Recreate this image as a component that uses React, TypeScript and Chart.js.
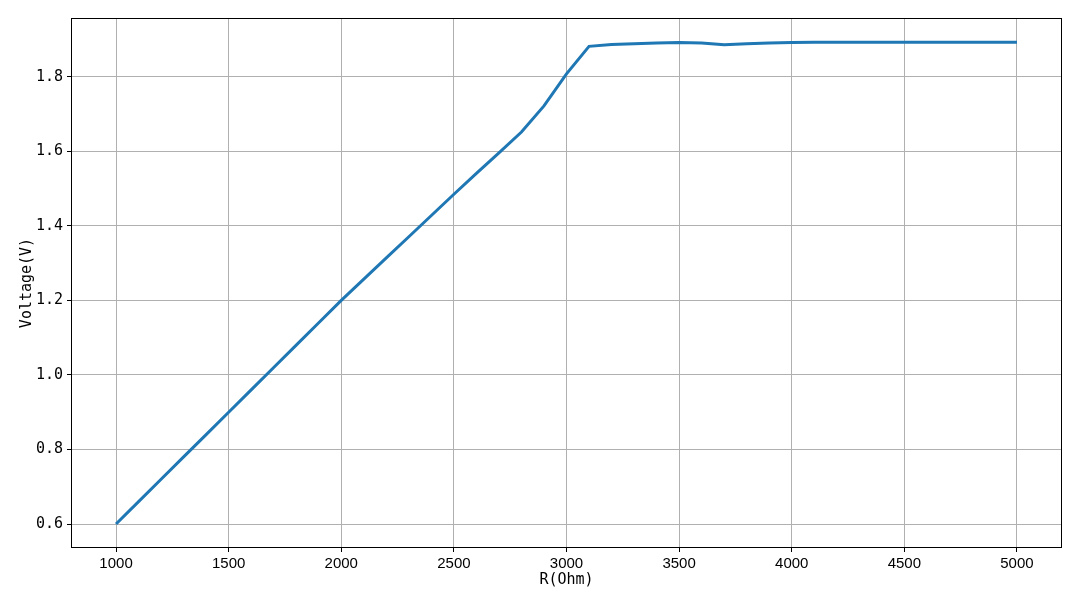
import { useEffect, useRef } from "react";
import { Chart, registerables } from "chart.js";

Chart.register(...registerables);

// Resistance (Ohm) sample points
const resistance = [
  1000, 1100, 1200, 1300, 1400, 1500, 1600, 1700, 1800, 1900, 2000,
  2100, 2200, 2300, 2400, 2500, 2600, 2700, 2800, 2900, 3000,
  3100, 3200, 3300, 3400, 3500, 3600, 3700, 3800, 3900, 4000, 4100,
  4200, 4300, 4400, 4500, 4600, 4700, 4800, 4900, 5000,
];

// Measured voltage (V)
const voltage = [
  0.6, 0.66, 0.72, 0.78, 0.84, 0.9, 0.96, 1.02, 1.08, 1.14, 1.2,
  1.257, 1.314, 1.371, 1.428, 1.485, 1.541, 1.596, 1.652, 1.722, 1.808,
  1.882, 1.887, 1.889, 1.891, 1.892, 1.891, 1.886, 1.889, 1.891, 1.892, 1.893,
  1.893, 1.893, 1.893, 1.893, 1.893, 1.893, 1.893, 1.893, 1.893,
];

const xTicks = [1000, 1500, 2000, 2500, 3000, 3500, 4000, 4500, 5000];
const yTicks = [0.6, 0.8, 1.0, 1.2, 1.4, 1.6, 1.8];
const xRange = [800, 5200];
const yRange = [0.5356, 1.958];
const xLabel = "R(Ohm)";
const yLabel = "Voltage(V)";

const MONO = "'DejaVu Sans Mono', monospace";
const SANS = "'Liberation Sans', Arial, sans-serif";

const spinePlugin = {
  id: "spines",
  afterDraw(chart: any) {
    const { ctx, chartArea } = chart;
    ctx.save();
    ctx.strokeStyle = "#000";
    ctx.lineWidth = 1;
    ctx.strokeRect(
      Math.round(chartArea.left) + 0.5,
      Math.round(chartArea.top) + 0.5,
      Math.round(chartArea.right - chartArea.left) - 1,
      Math.round(chartArea.bottom - chartArea.top) - 1
    );
    ctx.restore();
  },
};

export default function App() {
  const canvasRef = useRef<HTMLCanvasElement | null>(null);

  useEffect(() => {
    const canvas = canvasRef.current;
    if (!canvas) return;
    const chart = new Chart(canvas, {
      type: "line",
      data: {
        datasets: [
          {
            data: resistance.map((r, i) => ({ x: r, y: voltage[i] })),
            borderColor: "#1f77b4",
            borderWidth: 3,
            pointRadius: 0,
            tension: 0,
            fill: false,
          },
        ],
      },
      options: {
        animation: false,
        responsive: true,
        maintainAspectRatio: false,
        layout: { padding: { top: 18, right: 18, left: 0, bottom: 0 } },
        plugins: { legend: { display: false }, tooltip: { enabled: false } },
        scales: {
          x: {
            type: "linear",
            min: xRange[0],
            max: xRange[1],
            afterBuildTicks: (scale: any) => {
              scale.ticks = xTicks.map((v) => ({ value: v }));
            },
            afterFit: (scale: any) => {
              scale.height = 59;
            },
            border: { display: false },
            grid: {
              color: "#b0b0b0",
              lineWidth: 1,
              tickColor: "#000",
              tickLength: 4,
              drawTicks: true,
            },
            ticks: {
              color: "#000",
              font: { family: SANS, size: 15 },
              padding: 3,
              maxRotation: 0,
              autoSkip: false,
              callback: (v: any) => String(v),
            },
            title: {
              display: true,
              text: xLabel,
              color: "#000",
              font: { family: MONO, size: 15 },
              padding: { top: 0, bottom: 18 },
            },
          },
          y: {
            type: "linear",
            min: yRange[0],
            max: yRange[1],
            afterBuildTicks: (scale: any) => {
              scale.ticks = yTicks.map((v) => ({ value: v }));
            },
            afterFit: (scale: any) => {
              scale.width = 71;
            },
            border: { display: false },
            grid: {
              color: "#b0b0b0",
              lineWidth: 1,
              tickColor: "#000",
              tickLength: 4,
              drawTicks: true,
            },
            ticks: {
              color: "#000",
              font: { family: MONO, size: 15 },
              padding: 4,
              autoSkip: false,
              callback: (v: any) => Number(v).toFixed(1),
            },
            title: {
              display: true,
              text: yLabel,
              color: "#000",
              font: { family: MONO, size: 15 },
              padding: { top: 18, bottom: 0 },
            },
          },
        },
      },
      plugins: [spinePlugin],
    });
    return () => chart.destroy();
  }, []);

  return (
    <div
      style={{
        position: "fixed",
        left: 0,
        top: 0,
        width: 1080,
        height: 607,
        background: "#fff",
      }}
    >
      <canvas ref={canvasRef} />
    </div>
  );
}
